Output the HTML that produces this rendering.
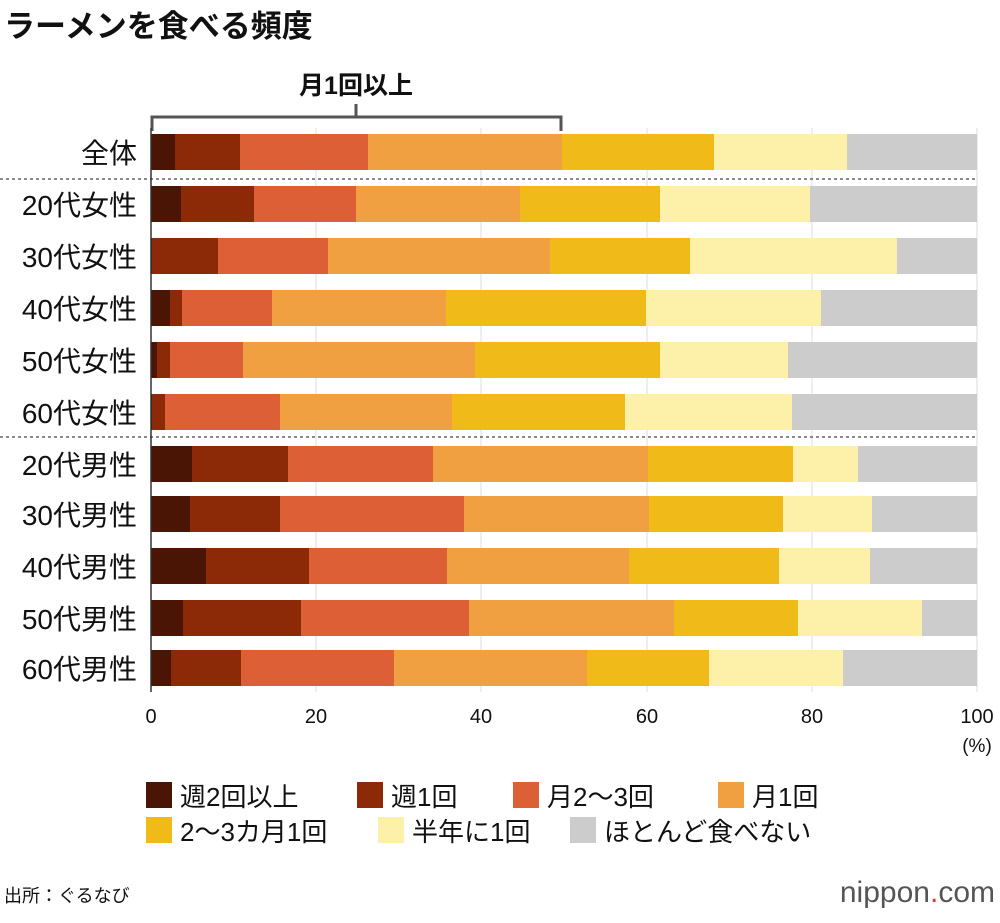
<!DOCTYPE html>
<html><head><meta charset="utf-8"><style>
body{margin:0;background:#fff;}
svg text{font-family:"Liberation Sans","Noto Sans CJK JP",sans-serif;}
</style></head><body>
<svg width="1000" height="918" viewBox="0 0 1000 918" xmlns="http://www.w3.org/2000/svg">
<text x="4" y="37" font-size="31" font-weight="bold" fill="#111">ラーメンを食べる頻度</text>
<g stroke="#555" stroke-width="3" fill="none">
<path d="M152,131 V117 H561 V131"/>
<path d="M356,117 V104"/>
</g>
<text x="356" y="94" font-size="25" font-weight="bold" text-anchor="middle" fill="#111">月1回以上</text>
<g stroke="#ddd" stroke-width="1">
<line x1="316" y1="128" x2="316" y2="692"/><line x1="481" y1="128" x2="481" y2="692"/>
<line x1="647" y1="128" x2="647" y2="692"/><line x1="812" y1="128" x2="812" y2="692"/>
<line x1="977" y1="128" x2="977" y2="692"/>
</g>
<g id="bars"></g>
<g stroke="#444" stroke-width="1.2" stroke-dasharray="3,3">
<line x1="0" y1="179" x2="977" y2="179"/><line x1="0" y1="437" x2="977" y2="437"/>
</g>
<line x1="151" y1="128" x2="151" y2="692" stroke="#333" stroke-width="1.5"/>
<g font-size="28" text-anchor="end" fill="#111" id="labels"></g>
<g font-size="20" text-anchor="middle" fill="#111">
<text x="151" y="723">0</text><text x="316" y="723">20</text><text x="481" y="723">40</text>
<text x="647" y="723">60</text><text x="812" y="723">80</text><text x="977" y="723">100</text>
<text x="977" y="752" font-size="19">(%)</text>
</g>
<g font-size="26" fill="#111">
<rect x="146" y="782" width="26" height="26" fill="#4a1505"/><text x="180" y="806">週2回以上</text>
<rect x="357" y="782" width="26" height="26" fill="#8c2a07"/><text x="391" y="806">週1回</text>
<rect x="513" y="782" width="26" height="26" fill="#dc5f35"/><text x="547" y="806">月2〜3回</text>
<rect x="718" y="782" width="26" height="26" fill="#f0a040"/><text x="752" y="806">月1回</text>
<rect x="146" y="817" width="26" height="26" fill="#f0bb18"/><text x="180" y="841">2〜3カ月1回</text>
<rect x="378" y="817" width="26" height="26" fill="#fdf0a8"/><text x="412" y="841">半年に1回</text>
<rect x="570" y="817" width="26" height="26" fill="#cccccc"/><text x="604" y="841">ほとんど食べない</text>
</g>
<text x="4" y="902" font-size="18" fill="#111">出所：ぐるなび</text>
<text x="995" y="902" font-size="30" text-anchor="end" fill="#555">nippon<tspan fill="#e33">.</tspan>com</text>
<script>
var cols=["#4a1505","#8c2a07","#dc5f35","#f0a040","#f0bb18","#fdf0a8","#cccccc"];
var rows=[
["全体",134,[151,175,240,368,562,714,847,977]],
["20代女性",186,[151,181,254,356,520,660,810,977]],
["30代女性",238,[151,152,218,328,550,690,897,977]],
["40代女性",290,[151,170,182,272,446,646,821,977]],
["50代女性",342,[151,157,170,243,475,660,788,977]],
["60代女性",394,[151,152,165,280,452,625,792,977]],
["20代男性",446,[151,192,288,433,648,793,858,977]],
["30代男性",496,[151,190,280,464,649,783,872,977]],
["40代男性",548,[151,206,309,447,629,779,870,977]],
["50代男性",600,[151,183,301,469,674,798,922,977]],
["60代男性",650,[151,171,241,394,587,709,843,977]]];
var ns="http://www.w3.org/2000/svg",b=document.getElementById("bars"),l=document.getElementById("labels");
rows.forEach(function(r){
 for(var i=0;i<7;i++){var e=document.createElementNS(ns,"rect");
 e.setAttribute("x",r[2][i]);e.setAttribute("y",r[1]);e.setAttribute("width",r[2][i+1]-r[2][i]);
 e.setAttribute("height",36);e.setAttribute("fill",cols[i]);b.appendChild(e);}
 var t=document.createElementNS(ns,"text");t.setAttribute("x",137);t.setAttribute("y",r[1]+29);
 t.textContent=r[0];l.appendChild(t);
});
</script>
</svg>
</body></html>
